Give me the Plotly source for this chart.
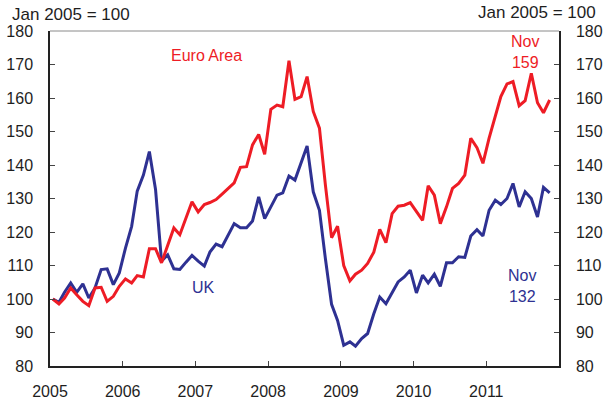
import plotly.graph_objects as go

# ---- data (monthly, Jan 2005 = 100) ----
n_months = 83  # Jan 2005 .. Nov 2011
months = [f"{2005 + i // 12}-{i % 12 + 1:02d}-15" for i in range(n_months)]

euro_area = [
    100, 98.5, 100.3, 103.3, 101.3, 99.3, 98, 103.3, 103.5, 99.3, 100.8, 103.8,
    106, 104.8, 107, 106.6, 115, 115, 110.8, 115.7, 121.2, 119.2, 124, 129,
    126, 128.2, 128.8, 129.7, 131.3, 133, 134.7, 139.3, 139.5, 146, 149.1, 143.2,
    156.6, 157.9, 157.4, 171.1, 159.6, 160.4, 166.4, 156, 151, 134, 118.3, 121.7,
    110, 105.4, 107.4, 108.6, 110.6, 114, 120.8, 116.8, 125.5, 127.7, 128, 128.8,
    126.2, 123.5, 133.8, 131, 122.5, 127.5, 133, 134.5, 137, 148, 145.2, 140.5,
    148, 154.4, 160.4, 164.2, 164.9, 157.7, 159.2, 167.4, 158.6, 155.6, 159.4,
]

uk = [
    100, 99, 102, 104.8, 102, 104.5, 100.3, 103.3, 108.8, 109, 104.3, 107.8,
    115.2, 121.7, 132.2, 137, 144, 132.7, 111.3, 113.2, 109, 108.8, 111, 113,
    111.3, 109.8, 114, 116.4, 115.6, 119, 122.5, 121.3, 121.3, 123.3, 130.5, 124,
    127.5, 131, 131.7, 136.7, 135.5, 140.5, 145.7, 132, 126.5, 112, 98.4, 93.6,
    86.2, 87.2, 85.9, 88.2, 89.7, 95.6, 100.6, 98.6, 102.1, 105.1, 106.6, 108.6,
    101.8, 107.1, 104.8, 107.4, 103.8, 110.8, 110.8, 112.6, 112.4, 118.8, 120.7, 118.8,
    126.5, 129.5, 128.2, 130, 134.5, 127.5, 132, 130, 124.5, 133.3, 131.7,
]

year_ticks = ["2005", "2006", "2007", "2008", "2009", "2010", "2011"]
y_ticks = [80, 90, 100, 110, 120, 130, 140, 150, 160, 170, 180]

RED = "#EE1C25"
BLUE = "#2E3192"
TXT = "#1e1e1e"
FONT = "Liberation Sans, Arial, sans-serif"

fig = go.Figure()
fig.add_trace(go.Scatter(x=months, y=uk, mode="lines", name="UK",
                         line=dict(color=BLUE, width=3), yaxis="y"))
fig.add_trace(go.Scatter(x=months, y=euro_area, mode="lines", name="Euro Area",
                         line=dict(color=RED, width=3), yaxis="y2"))

axis_common = dict(showgrid=False, zeroline=False, showline=True,
                   linecolor="#222222", linewidth=1.5, ticks="inside",
                   ticklen=5, tickwidth=1, tickcolor="#444444", automargin=False,
                   tickfont=dict(family=FONT, size=16, color=TXT))

fig.update_layout(
    width=605, height=400,
    margin=dict(l=50, r=46, t=31, b=34),
    paper_bgcolor="white", plot_bgcolor="white",
    showlegend=False,
    font=dict(family=FONT, size=16, color=TXT),
    xaxis=dict(type="date", range=["2005-01-01", "2012-01-01"],
               tickvals=[f"{y}-01-01" for y in year_ticks], ticktext=year_ticks,
               ticklabelstandoff=10, **axis_common),
    yaxis=dict(range=[80, 180], tickvals=y_ticks, ticklabelstandoff=12,
               **axis_common),
    yaxis2=dict(range=[80, 180], tickvals=y_ticks, overlaying="y", side="right",
                anchor="x", ticklabelstandoff=12, **axis_common),
)

# top border (thin gray)
fig.add_shape(type="line", xref="paper", yref="paper", x0=0, x1=1, y0=1, y1=1,
              line=dict(color="#8a8a8a", width=1))

# unit labels
fig.add_annotation(text="Jan 2005 = 100", xref="paper", yref="paper",
                   x=-0.079, y=1.05, xanchor="left", yanchor="middle",
                   showarrow=False, font=dict(family=FONT, size=17, color=TXT))
fig.add_annotation(text="Jan 2005 = 100", xref="paper", yref="paper",
                   x=1.077, y=1.055, xanchor="right", yanchor="middle",
                   showarrow=False, font=dict(family=FONT, size=17, color=TXT))

# series labels
fig.add_annotation(text="Euro Area", x="2007-02-27", y=172.8, showarrow=False,
                   font=dict(family=FONT, size=16, color=RED))
fig.add_annotation(text="UK", x="2007-02-12", y=103.5, showarrow=False,
                   font=dict(family=FONT, size=16, color=BLUE))
fig.add_annotation(text="Nov<br>159", x="2011-07-12", y=173.7, showarrow=False,
                   font=dict(family=FONT, size=16, color=RED))
fig.add_annotation(text="Nov<br>132", x="2011-07-01", y=104, showarrow=False,
                   font=dict(family=FONT, size=16, color=BLUE))

fig.write_html("out.html", config={"displayModeBar": False},
               post_script="document.body.style.margin='0';")
